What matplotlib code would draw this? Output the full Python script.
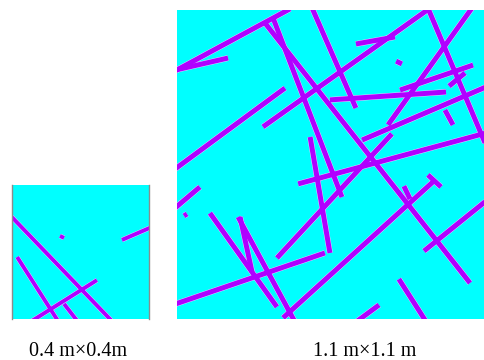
import matplotlib
matplotlib.use("Agg")
import matplotlib.pyplot as plt

# fracture traces, metres (start x, start y, end x, end y)
small_x1 = [-0.020, 0.015, 0.248, 0.152, 0.140, 0.321]
small_y1 = [0.325, 0.185, 0.116, 0.045, 0.248, 0.236]
small_x2 = [0.300, 0.140, 0.053, 0.193, 0.152, 0.409]
small_y2 = [-0.015, -0.015, -0.009, -0.009, 0.242, 0.275]

big_x1 = [-0.007, -0.007, 0.315, 0.344, 0.477, 0.434, -0.007, 0.308, 0.484, 0.641,
          0.785, 0.548, 0.799, 0.975, 0.358, 0.756, 0.663, 0.960, 0.899, 0.380,
          0.899, 0.813, 0.885, 0.795, 0.641, -0.007, 0.118, 0.219, 0.226, 0.025,
          -0.007]
big_y1 = [0.883, 0.886, 1.054, 1.072, 0.648, 0.481, 0.534, 0.684, 1.107, 0.979,
          0.918, 0.780, 0.815, 0.829, 0.217, 0.691, 0.637, 0.744, 1.107, 0.004,
          0.513, 0.473, 0.242, 0.142, -0.011, 0.053, 0.377, 0.363, 0.363, 0.367,
          0.395]
big_x2 = [0.405, 0.183, 1.050, 0.591, 0.548, 1.107, 0.387, 0.907, 0.641, 0.781,
          0.806, 0.964, 1.061, 1.032, 0.770, 1.057, 1.107, 0.989, 1.107, 0.917,
          0.946, 0.835, 1.107, 0.889, 0.724, 0.530, 0.358, 0.423, 0.269, 0.036,
          0.082]
big_y2 = [1.104, 0.929, 0.128, 0.434, 0.235, 0.662, 0.822, 1.107, 0.751, 1.004,
          0.908, 0.808, 0.904, 0.876, 0.659, 1.107, 0.826, 0.691, 0.619, 0.488,
          0.470, 0.427, 0.420, -0.004, 0.050, 0.235, 0.043, -0.011, 0.167, 0.374,
          0.470]

labels = ["0.4 m\u00d70.4m", "1.1 m\u00d71.1 m"]
sizes = [0.4, 1.1]

CYAN = "#00FFFF"
PURPLE = "#B000FF"
HALO = "#EAD6FF"

fig = plt.figure(figsize=(4.84, 3.6), dpi=100)
ax_s = fig.add_axes([12 / 484, 41 / 360, 137 / 484, 134 / 360])
ax_b = fig.add_axes([177 / 484, 41 / 360, 307 / 484, 309 / 360])


def draw(ax, x1, y1, x2, y2, size, lw):
    ax.set_facecolor(CYAN)
    for a, b, c, d in zip(x1, y1, x2, y2):
        ax.plot([a, c], [b, d], color=HALO, lw=lw + 0.6, solid_capstyle="butt")
    for a, b, c, d in zip(x1, y1, x2, y2):
        ax.plot([a, c], [b, d], color=PURPLE, lw=lw, solid_capstyle="butt")
    ax.set_xlim(0, size)
    ax.set_ylim(0, size)
    ax.set_xticks([]); ax.set_yticks([])


draw(ax_s, small_x1, small_y1, small_x2, small_y2, sizes[0], 2.8)
draw(ax_b, big_x1, big_y1, big_x2, big_y2, sizes[1], 3.6)

for sp in ax_s.spines.values():
    sp.set_visible(False)
for side in ["left", "right"]:
    ax_s.spines[side].set_visible(True)
    ax_s.spines[side].set_color("#8C8C8C")
    ax_s.spines[side].set_linewidth(1.0)
for sp in ax_b.spines.values():
    sp.set_visible(False)

fig.text(78.5 / 484, 9 / 360, labels[0], ha="center", va="center",
         family="Liberation Serif", fontsize=14.5)
fig.text(365 / 484, 9 / 360, labels[1], ha="center", va="center",
         family="Liberation Serif", fontsize=14.5)

fig.savefig("out.png", dpi=100)
